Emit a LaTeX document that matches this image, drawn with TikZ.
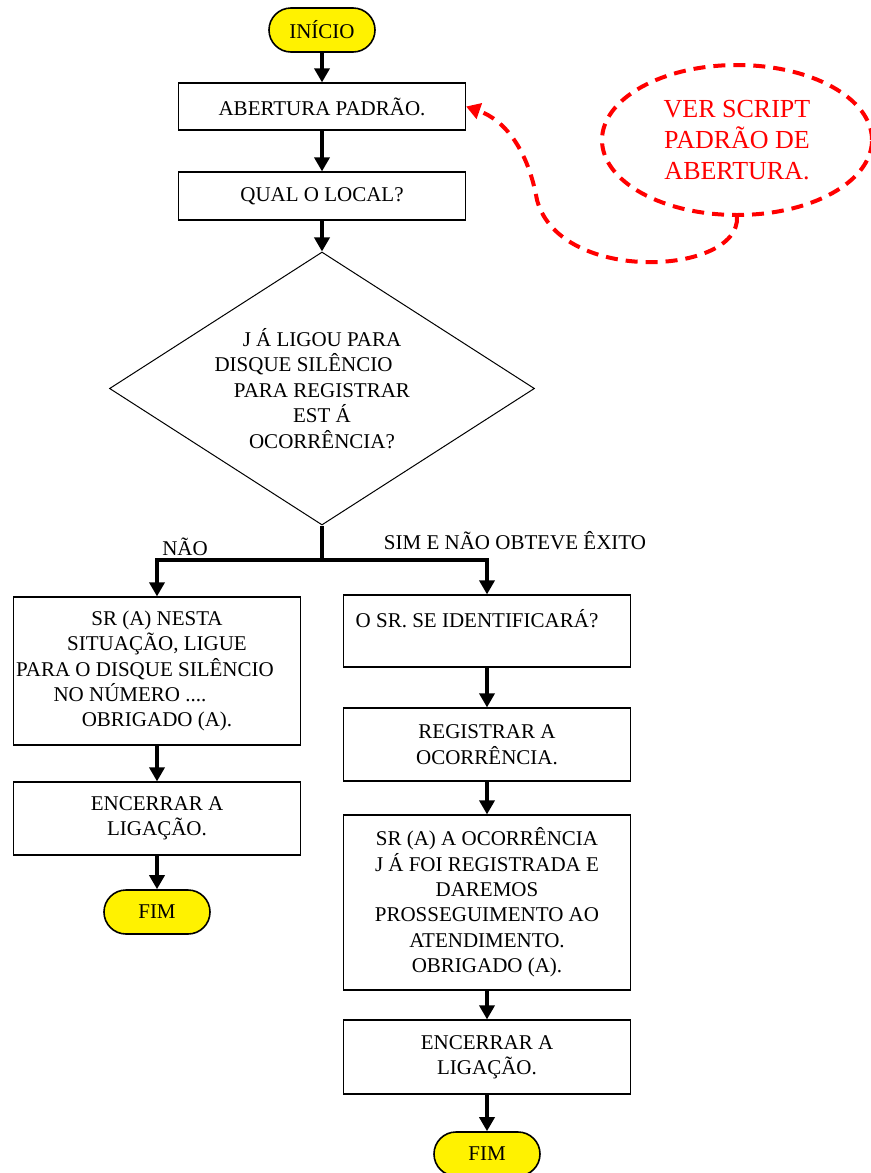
\documentclass[tikz,border=0pt]{standalone}
\usepackage{fontspec}
\setmainfont{Liberation Serif}
\usetikzlibrary{shapes.geometric,arrows.meta}

\begin{document}
\begin{tikzpicture}
[
  x=0.5pt, y=-0.5pt,
  every node/.style = {font=\fontsize{10.5}{12.7}\selectfont, align=center},
  box/.style = {draw, line width=0.6pt, minimum width=143.5pt, inner sep=0pt},
  term/.style = {draw, fill=yellow, rounded corners=11pt, line width=0.8pt,
                 minimum width=53pt, minimum height=22pt, inner sep=0pt},
  decision/.style = {draw, diamond, aspect=1.56, line width=0.5pt, inner sep=0pt,
                     minimum width=212.5pt, minimum height=136.5pt},
  conn/.style = {line width=1.7pt, -{Triangle[width=7.5pt,length=7pt]}},
  note/.style = {draw=red, ellipse, line width=2pt, dash pattern=on 6pt off 4pt,
                 text=red, font=\fontsize{13}{15.5}\selectfont,
                 minimum width=135pt, minimum height=75pt},
]
\def\pad#1{\rule{#1}{0pt}} %push a line to the left
\useasboundingbox (0,0) rectangle (871,1173);

%start
\node[term] (inicio) at (322,30) {INÍCIO};
\node[box, minimum height=23.5pt] (abert) at (322,106.5) {ABERTURA PADRÃO.};
\node[box, minimum height=24pt] (local) at (322,196) {QUAL O LOCAL?};
\node[decision] (dec) at (322,388.5)
  {J Á LIGOU PARA\\DISQUE SILÊNCIO\pad{18.5pt}\\PARA REGISTRAR\\EST Á\\OCORRÊNCIA?};
\coordinate (split) at (322,560); %branch point

%red remark
\node[note] (ver) at (737,140) {VER SCRIPT\\PADRÃO DE\\ABERTURA.};

%left branch
\node (nao) at (185,547) {NÃO};
\node[box, minimum height=74pt] (nao1) at (157,671)
  {SR (A) NESTA\\SITUAÇÃO, LIGUE\\PARA O DISQUE SILÊNCIO\pad{12pt}\\NO NÚMERO ....\pad{27pt}\\OBRIGADO (A).};
\node[box, minimum height=36.5pt] (nao2) at (157,818.5) {ENCERRAR A\\LIGAÇÃO.};
\node[term] (fim1) at (157,912) {FIM};

%right branch
\node (sim) at (515,541) {SIM E NÃO OBTEVE ÊXITO};
\node[box, minimum height=36pt] (sim1) at (487,631) {O SR. SE IDENTIFICARÁ?\pad{10pt}\\~};
\node[box, minimum height=36.5pt] (sim2) at (487,744.5) {REGISTRAR A\\OCORRÊNCIA.};
\node[box, minimum height=87.5pt] (sim3) at (487,902.5)
  {SR (A) A OCORRÊNCIA\\J Á FOI REGISTRADA E\\DAREMOS\\PROSSEGUIMENTO AO\\ATENDIMENTO.\\OBRIGADO (A).};
\node[box, minimum height=37pt] (sim4) at (487,1057) {ENCERRAR A\\LIGAÇÃO.};
\node[term] (fim2) at (487,1154) {FIM};

%arrows
\draw[conn] (inicio) -- (abert);
\draw[conn] (abert) -- (local);
\draw[conn] (local) -- (dec);
\draw[line width=1.7pt] (dec.south) -- (split);
\draw[conn] (split) -| (nao1.north);
\draw[conn] (split) -| (sim1.north);
\draw[conn] (nao1) -- (nao2);
\draw[conn] (nao2) -- (fim1);
\draw[conn] (sim1) -- (sim2);
\draw[conn] (sim2) -- (sim3);
\draw[conn] (sim3) -- (sim4);
\draw[conn] (sim4) -- (fim2);

\draw[red, line width=2pt, dash pattern=on 6pt off 4pt, -{Triangle[width=8pt,length=7pt]}]
  (ver.south) .. controls (740,275) and (560,285) .. (537,200)
  .. controls (528,150) and (505,120) .. (abert.east);
\end{tikzpicture}
\end{document}
